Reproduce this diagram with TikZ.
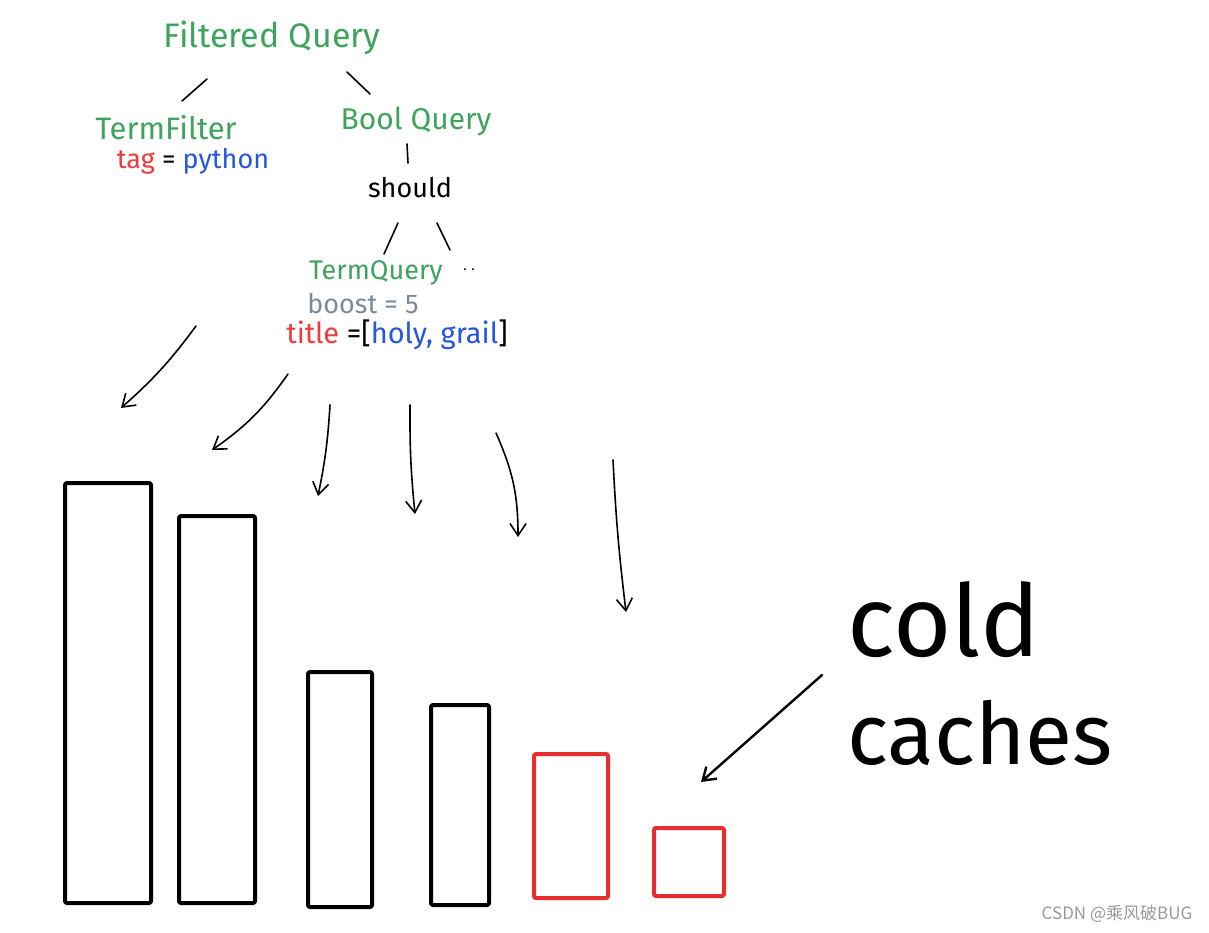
\documentclass[tikz,border=0pt]{standalone}
\usepackage{fontspec}
\setmainfont{Fira Sans}
\newfontfamily\cjkfont{Noto Sans CJK SC}
\usetikzlibrary{arrows.meta}
\definecolor{qgreen}{HTML}{3DA35D}
\definecolor{qred}{HTML}{F03A3F}
\definecolor{qblue}{HTML}{2456E0}
\definecolor{qgrey}{HTML}{7C8B97}
\definecolor{cachered}{HTML}{E62E2E}
\newcommand{\fsz}[1]{\fontsize{#1}{#1}\selectfont}
\tikzset{
  >={Straight Barb[length=12pt,width=16pt]},
  % tree
  qn/.style={text=qgreen,inner sep=0pt,font=\fsz{30}},
  kv/.style={inner sep=0pt,font=\fsz{27}},
  tl/.style={draw=black,line width=1.6pt,line cap=round},
  % bars
  bar/.style={draw=black,line width=4pt,line join=round,anchor=south west,
              inner sep=0pt,rounded corners=2pt},
  coldbar/.style={bar,draw=cachered},
  arr/.style={->,draw=black,line width=1.6pt,line cap=round},
  big/.style={inner sep=0pt,font=\fsz{100}},
}
\begin{document}
\begin{tikzpicture}[x=1pt,y=-1pt]
  \fill[white] (0,0) rectangle (1209,932);
  \useasboundingbox (0,0) rectangle (1209,932);
  % query tree
  \node[qn,font=\fsz{34}] (fq) at (272,38) {Filtered Query};
  \node[qn,font=\fsz{31}] (tf) at (166,128) {TermFilter};
  \node[kv] (tag) at (193,161) {{\color{qred}tag} = {\color{qblue}python}};
  \node[qn] (bq) at (416,121) {Bool Query};
  \node[kv] (sh) at (410,188) {should};
  \node[qn,font=\fsz{27}] (tq) at (376,273) {TermQuery};
  \node[kv,font=\fsz{14}] (more) at (469,270) {.\,\,.};
  \node[kv,text=qgrey] (bst) at (363,304) {boost = 5};
  \node[kv,font=\fsz{29}] (ttl) at (397,335) {{\color{qred}title} =[{\color{qblue}holy, grail}]};
  \coordinate (fq1) at (207,79);  \coordinate (tf1) at (182,101);
  \coordinate (fq2) at (347,72);  \coordinate (bq1) at (370,94);
  \coordinate (bq2) at (407,144); \coordinate (sh1) at (408,163);
  \coordinate (sh2) at (398,223); \coordinate (tq1) at (384,254);
  \coordinate (sh3) at (437,223); \coordinate (tq2) at (450,250);
  \draw[tl] (fq1) -- (tf1);
  \draw[tl] (fq2) -- (bq1);
  \draw[tl] (bq2) -- (sh1);
  \draw[tl] (sh2) -- (tq1);
  \draw[tl] (sh3) -- (tq2);
  % caches
  \node[bar,minimum width=86,minimum height=420] (b1) at (63,905) {};
  \node[bar,minimum width=76,minimum height=387] (b2) at (177,905) {};
  \node[bar,minimum width=64,minimum height=235] (b3) at (306,909) {};
  \node[bar,minimum width=58,minimum height=200] (b4) at (429,907) {};
  \node[coldbar,minimum width=74,minimum height=144] (b5) at (532,900) {};
  \node[coldbar,minimum width=70,minimum height=68] (b6) at (652,898) {};
  % lookups
  \coordinate (a1) at (196,326); \coordinate (e1) at (121,408);
  \coordinate (a2) at (288,374); \coordinate (e2) at (212,450);
  \coordinate (a3) at (330,405); \coordinate (e3) at (318,496);
  \coordinate (a4) at (410,405); \coordinate (e4) at (415,514);
  \coordinate (a5) at (496,433); \coordinate (e5) at (518,537);
  \coordinate (a6) at (613,460); \coordinate (e6) at (626,612);
  \draw[arr] (a1) to[bend left=6] (e1);
  \draw[arr] (a2) to[bend left=10] (e2);
  \draw[arr] (a3) to[bend left=4] (e3);
  \draw[arr] (a4) to[bend right=3] (e4);
  \draw[arr] (a5) to[bend left=12] (e5);
  \draw[arr] (a6) to[bend right=2] (e6);
  % label
  \node[big] (cold) at (944,620) {cold};
  \node[big,font=\fsz{86}] (cch) at (980,733) {caches};
  \coordinate (c1) at (822,675); \coordinate (c2) at (701,782);
  \draw[arr,line width=2.4pt] (c1) -- (c2);
  \node[inner sep=0pt,text=black!40,font=\cjkfont\fsz{17}] (wm) at (1117,914) {CSDN @乘风破BUG};
\end{tikzpicture}
\end{document}
